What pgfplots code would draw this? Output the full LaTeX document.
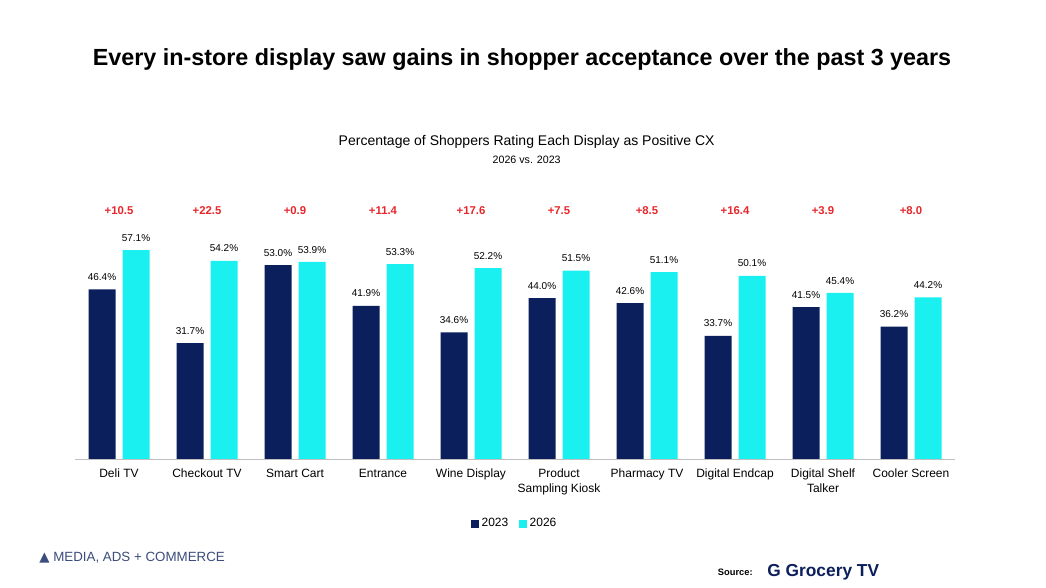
\documentclass[border=0pt]{standalone}
\usepackage{pgfplots}
\pgfplotsset{compat=1.18}
\usepackage{fontspec}
\setmainfont{Liberation Sans}
\newfontfamily\dejavu{DejaVu Sans}
\definecolor{navy}{HTML}{0B1F5C}
\definecolor{cyanb}{HTML}{1AF0F0}
\definecolor{redd}{HTML}{E8262A}
\begin{document}
\begin{tikzpicture}
\path[fill=white] (0,0) rectangle (784.5pt,441pt);
\node[font=\fontsize{17.5}{21}\selectfont\bfseries] at (391.5pt,396pt) {Every in-store display saw gains in shopper acceptance over the past 3 years};
\node[font=\fontsize{10.5}{12}\selectfont] at (395pt,334.5pt) {Percentage of Shoppers Rating Each Display as Positive CX};
\node[font=\fontsize{8}{10}\selectfont] at (395pt,321pt) {2026 vs. 2023};
\begin{axis}[at={(56.25pt,96.75pt)},anchor=south west,scale only axis,
 width=660pt,height=192pt,xmin=-0.5,xmax=9.5,ymin=0,ymax=70,
 ybar,bar width=20.25pt,
 axis y line=none, axis x line*=bottom, x axis line style={gray!50},
 xtick=data, major tick length=0pt,
 /pgf/number format/assume math mode=true,
 xticklabels={\strut Deli TV,\strut Checkout TV,\strut Smart Cart,\strut Entrance,\strut Wine Display,\strut Product\\Sampling Kiosk,\strut Pharmacy TV,\strut Digital Endcap,\strut Digital Shelf\\Talker,\strut Cooler Screen},
 xticklabel style={font=\fontsize{9}{11}\selectfont,align=center,anchor=north,yshift=-3pt},
 nodes near coords={\pgfmathprintnumber[fixed,fixed zerofill,precision=1]{\pgfplotspointmeta}\%},
 every node near coord/.append style={font=\fontsize{7.5}{9}\selectfont,yshift=3pt},
 legend style={at={(0.5,-0.21)},anchor=north,draw=none,legend columns=2,font=\fontsize{9}{11}\selectfont,/tikz/every even column/.append style={column sep=6pt}},
 legend image code/.code={\fill[#1] (0pt,-3pt) rectangle (6pt,3pt);},
 clip=false]
\addplot[fill=navy,draw=none,bar shift=-12.75pt] coordinates {(0,46.4)(1,31.7)(2,53.0)(3,41.9)(4,34.6)(5,44.0)(6,42.6)(7,33.7)(8,41.5)(9,36.2)};
\addplot[fill=cyanb,draw=none,bar shift=12.75pt] coordinates {(0,57.1)(1,54.2)(2,53.9)(3,53.3)(4,52.2)(5,51.5)(6,51.1)(7,50.1)(8,45.4)(9,44.2)};
\legend{2023,2026}
\addplot[draw=none,mark=none,forget plot,bar shift=0pt,
 nodes near coords={\pgfplotspointmeta},point meta=explicit symbolic,
 every node near coord/.style={font=\fontsize{8.5}{11}\selectfont\bfseries,text=redd,anchor=center}]
 coordinates {(0,68)[+10.5](1,68)[+22.5](2,68)[+0.9](3,68)[+11.4](4,68)[+17.6](5,68)[+7.5](6,68)[+8.5](7,68)[+16.4](8,68)[+3.9](9,68)[+8.0]};
\end{axis}
\node[font=\fontsize{10}{12}\selectfont,text=navy!80,anchor=west] at (26pt,23pt) {{\dejavu ▲} MEDIA, ADS + COMMERCE};
\node[font=\fontsize{7}{9}\selectfont\bfseries,anchor=east] at (568pt,12pt) {Source:};
\node[font=\fontsize{13}{15}\selectfont\bfseries,text=navy,anchor=west] at (572pt,12pt) {G Grocery TV};
\end{tikzpicture}
\end{document}
